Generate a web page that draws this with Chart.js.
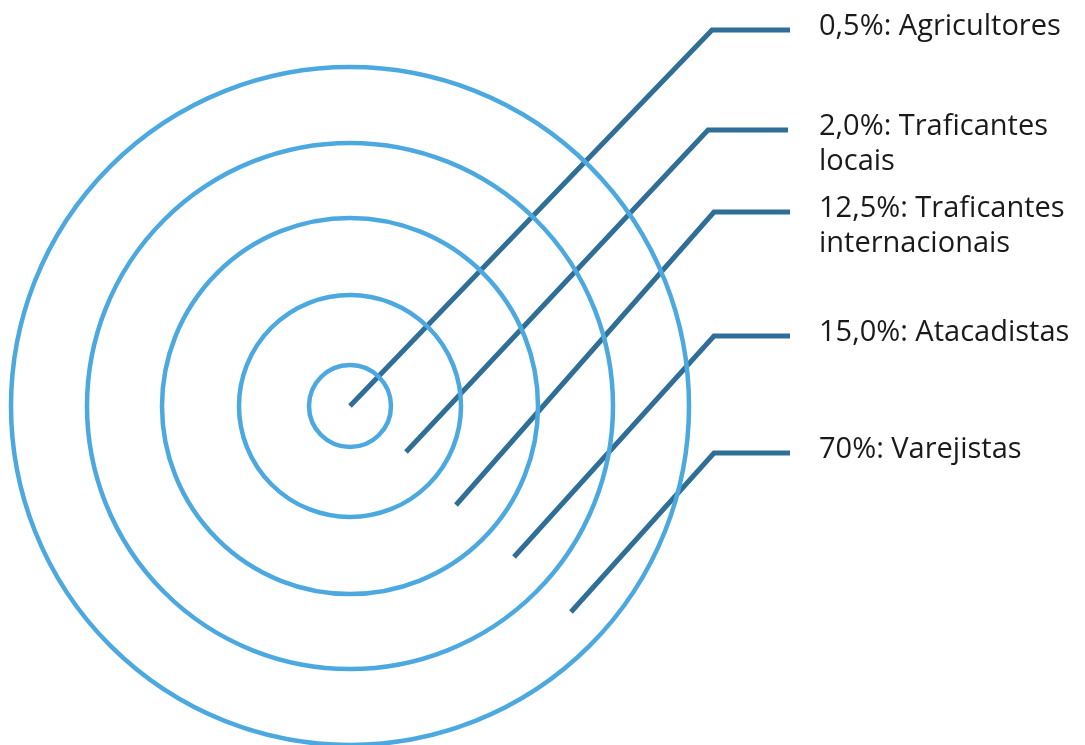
<!DOCTYPE html>
<html>
<head>
<meta charset="utf-8">
<script src="https://cdn.jsdelivr.net/npm/chart.js@4/dist/chart.umd.min.js"></script>
<style>
  html, body { margin: 0; padding: 0; background: #fff; }
  #wrap { width: 1085px; height: 745px; }
</style>
</head>
<body>
<div id="wrap"><canvas id="chart" width="1085" height="745"></canvas></div>
<script>
// Rings (centre and radii in chart units)
const ringCenter = [350, 406];
const ringRadii = [41, 111, 188, 263, 339];

// Leader lines: start point on the target, elbow, end of the horizontal run
const leaderStartX = [350, 406, 456, 514, 571];
const leaderStartY = [406, 452, 505, 557, 612];
const leaderElbowX = [712, 708, 714, 714, 714];
const leaderElbowY = [30, 130, 212, 336, 453];
const leaderEndX = [790, 788, 790, 790, 790];

// Labels
const labelLines = [
  ['0,5%: Agricultores'],
  ['2,0%: Traficantes', 'locais'],
  ['12,5%: Traficantes', 'internacionais'],
  ['15,0%: Atacadistas'],
  ['70%: Varejistas']
];

const ringColor = '#4ca9df';
const leaderColor = '#2f6e97';

// Radius of a ring converted to pixels through the x scale
function ringPixelRadius(ctx) {
  const x = ctx.chart.scales.x;
  const r = ringRadii[ctx.dataIndex];
  return Math.abs(x.getPixelForValue(ringCenter[0] + r) - x.getPixelForValue(ringCenter[0]));
}

const datasets = [];

datasets.push({
  label: 'rings',
  data: ringRadii.map(() => ({ x: ringCenter[0], y: ringCenter[1] })),
  pointStyle: 'circle',
  pointRadius: ringPixelRadius,
  pointHoverRadius: ringPixelRadius,
  pointBackgroundColor: 'rgba(0,0,0,0)',
  pointBorderColor: ringColor,
  pointBorderWidth: 4.5,
  showLine: false
});

leaderStartX.forEach((sx, i) => {
  datasets.push({
    label: 'leader' + i,
    data: [
      { x: sx, y: leaderStartY[i] },
      { x: leaderElbowX[i], y: leaderElbowY[i] },
      { x: leaderEndX[i], y: leaderElbowY[i] }
    ],
    showLine: true,
    borderColor: leaderColor,
    borderWidth: 5,
    borderCapStyle: 'butt',
    borderJoinStyle: 'miter',
    pointRadius: 0,
    tension: 0
  });
});

// Draw the labels next to the leader ends
const labelPlugin = {
  id: 'labels',
  afterDatasetsDraw(chart) {
    const { ctx, scales } = chart;
    ctx.save();
    ctx.fillStyle = '#1a1a1a';
    ctx.font = '29px "Open Sans", "Noto Sans", sans-serif';
    ctx.textAlign = 'left';
    ctx.textBaseline = 'middle';
    labelLines.forEach((lines, i) => {
      const px = scales.x.getPixelForValue(819);
      let py = scales.y.getPixelForValue(leaderElbowY[i]) - 3;
      lines.forEach(line => {
        ctx.fillText(line, px, py);
        py += 35;
      });
    });
    ctx.restore();
  }
};

new Chart(document.getElementById('chart'), {
  type: 'scatter',
  data: { datasets: datasets },
  options: {
    responsive: false,
    animation: false,
    devicePixelRatio: 1,
    layout: { padding: 0 },
    plugins: { legend: { display: false }, tooltip: { enabled: false } },
    events: [],
    scales: {
      x: { type: 'linear', min: 0, max: 1085, display: false },
      y: { type: 'linear', min: 0, max: 745, reverse: true, display: false }
    }
  },
  plugins: [labelPlugin]
});
</script>
</body>
</html>
